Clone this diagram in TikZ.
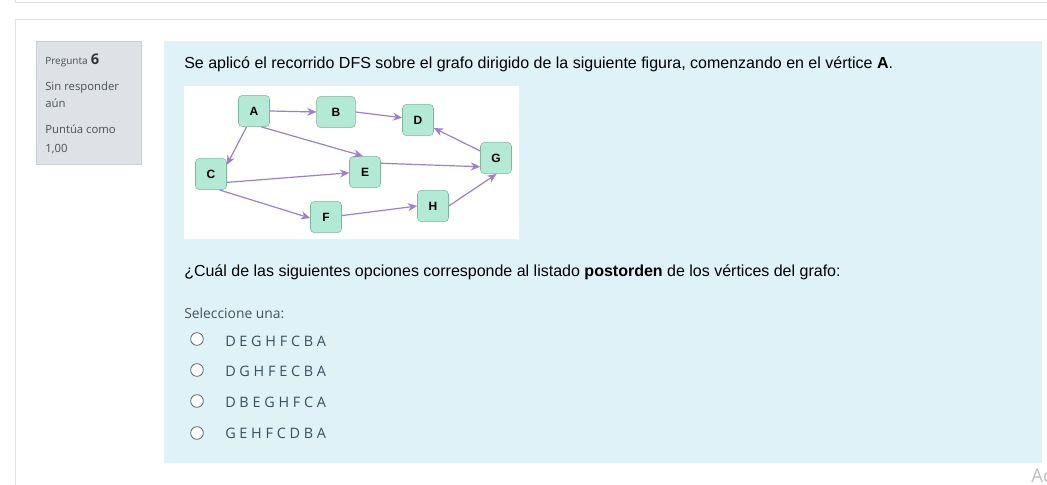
\documentclass[tikz,border=0pt]{standalone}
\usepackage{fontspec}
\setmainfont{Liberation Sans}
\newfontfamily\uifont{Open Sans}
\usepackage{xcolor}
\usepackage{tikz}
\usetikzlibrary{arrows.meta, positioning}
\definecolor{cardline}{HTML}{DEE2E6}
\definecolor{infofill}{HTML}{DEE2E6}
\definecolor{infoline}{HTML}{C9CED4}
\definecolor{qfill}{HTML}{DEF2F8}
\definecolor{vfill}{HTML}{B3EAD6}
\definecolor{vline}{HTML}{7DB89C}
\definecolor{edgecol}{HTML}{9B7FD3}
\definecolor{infotext}{HTML}{4B5157}
\definecolor{opttext}{HTML}{34505F}
\tikzset{
    vertex/.style={rectangle, rounded corners=3pt, draw=vline, fill=vfill, minimum width=23.25pt, minimum height=23.5pt, inner sep=0pt, font=\fontsize{9}{11}\selectfont\bfseries},
    edge/.style={-{Stealth[length=7pt, width=6pt]}, draw=edgecol, line width=0.9pt},
    infotxt/.style={anchor=base west, inner sep=0pt, text=infotext, font=\uifont\fontsize{8.5}{10}\selectfont},
    qtext/.style={anchor=base west, inner sep=0pt, font=\fontsize{12}{14}\selectfont},
    radio/.style={circle, draw=gray!75!black, fill=white, line width=0.6pt, minimum size=9.5pt, inner sep=0pt},
    option/.style={anchor=base west, inner sep=0pt, text=opttext, font=\uifont\fontsize{10.8}{13}\selectfont}
}

\begin{document}
\begin{tikzpicture}[x=0.75pt, y=-0.75pt]
  \useasboundingbox[fill=white] (0,0) rectangle (1047,485);
  % card frames
  \draw[cardline] (15,0) -- (15,2) -- (1047,2);
  \draw[cardline] (1047,19) -- (15,19) -- (15,485);
  % info box
  \draw[draw=infoline, fill=infofill] (36,41) rectangle (141,164);
  \node[infotxt, font=\uifont\fontsize{7.5}{9}\selectfont] (preg) at (45,65) {Pregunta};
  \node[infotxt, right=2pt of preg.base east, anchor=base west, font=\uifont\fontsize{11}{13}\selectfont\bfseries, text=black!80] (num) {6};
  \node[infotxt] (estado) at (45,91) {Sin responder};
  \node[infotxt] (estado2) at (45,108) {aún};
  \node[infotxt] (punt) at (45,133) {Puntúa como};
  \node[infotxt] (punt2) at (45,152) {1,00};
  % question panel
  \fill[qfill] (164,41) rectangle (1042,463);
  \node[qtext] (enunciado) at (184,69) {Se aplicó el recorrido DFS sobre el grafo dirigido de la siguiente figura, comenzando en el vértice \textbf{A}.};
  \fill[white] (184,86) rectangle (519,239);
  % graph
  \node[vertex] (A) at (254,111) {A};
  \node[vertex, minimum width=29pt] (B) at (336,112) {B};
  \node[vertex] (D) at (418,120) {D};
  \node[vertex] (C) at (211,174) {C};
  \node[vertex] (E) at (365,172) {E};
  \node[vertex] (G) at (496,158) {G};
  \node[vertex] (F) at (326,217) {F};
  \node[vertex] (H) at (433,206) {H};
  \draw[edge] (A.east) -- (B.west);
  \draw[edge] (B.east) -- (D.172);
  \draw[edge] (A.-115) -- (C.30);
  \draw[edge] (A.-65) -- (E.97);
  \draw[edge] (C.-28) -- (E.183);
  \draw[edge] (E.29) -- (G.209);
  \draw[edge] (G.156) -- (D.-27);
  \draw[edge] (C.-62) -- (F.184);
  \draw[edge] (F.5) -- (H.west);
  \draw[edge] (H.east) -- (G.-88);
  % question and options
  \node[qtext] (pregunta) at (184,276) {¿Cuál de las siguientes opciones corresponde al listado \textbf{postorden} de los vértices del grafo:};
  \node[option, text=infotext, font=\uifont\fontsize{10.4}{12}\selectfont] (sel) at (184,318) {Seleccione una:};
  \node[radio] (r1) at (197,339) {};
  \node[radio] (r2) at (197,370) {};
  \node[radio] (r3) at (197,401) {};
  \node[radio] (r4) at (197,433) {};
  \node[option] (op1) at (225,346) {D E G H F C B A};
  \node[option] (op2) at (225,376) {D G H F E C B A};
  \node[option] (op3) at (225,407) {D B E G H F C A};
  \node[option] (op4) at (225,438) {G E H F C D B A};
  \node[anchor=base west, inner sep=0pt, text=gray!50, font=\uifont\fontsize{14}{16}\selectfont] (marca) at (1031,482) {Ac};
\end{tikzpicture}
\end{document}
